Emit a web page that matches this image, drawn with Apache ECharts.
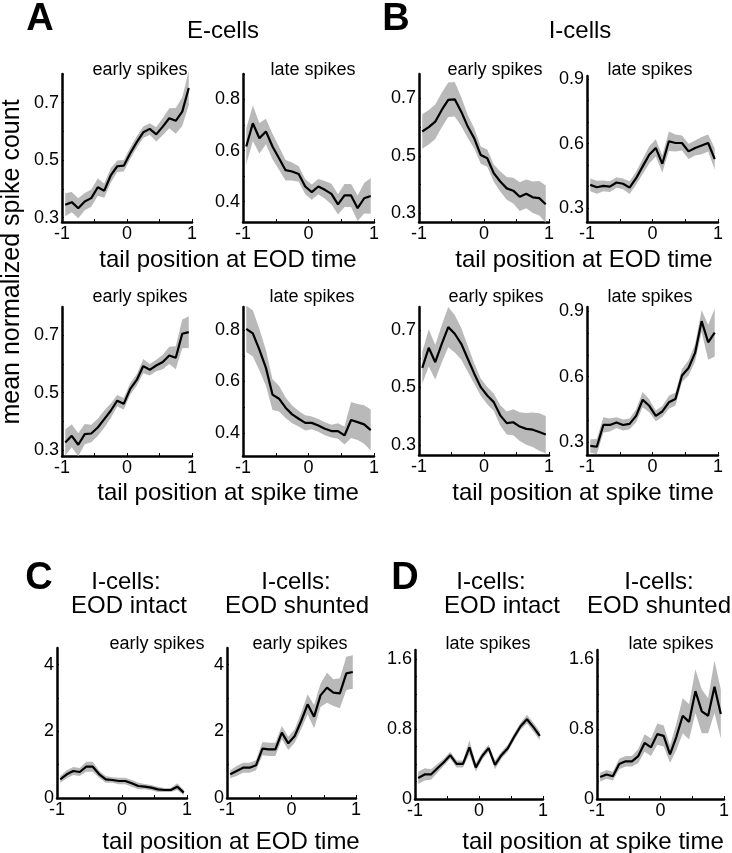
<!DOCTYPE html>
<html>
<head>
<meta charset="utf-8">
<script src="https://cdn.jsdelivr.net/npm/echarts@6/dist/echarts.min.js"></script>
<style>
  html, body { margin: 0; padding: 0; background: #fff; }
  #chart { width: 732px; height: 853px; }
</style>
</head>
<body>
<div id="chart"></div>
<script>
// bin centres of tail position
const xBins = [-0.95, -0.85, -0.75, -0.65, -0.55, -0.45, -0.35, -0.25, -0.15, -0.05,
  0.05, 0.15, 0.25, 0.35, 0.45, 0.55, 0.65, 0.75, 0.85, 0.95]
const xTickLabels = [-1, 0, 1]
const xTickMarks = [-1, -0.5, 0, 0.5, 1]

// A: E-cells, tail position at EOD time
const eEodEarly = [0.345, 0.354, 0.333, 0.356, 0.368, 0.406, 0.394, 0.447, 0.479, 0.481, 0.524, 0.563, 0.597, 0.609, 0.590, 0.617, 0.646, 0.637, 0.669, 0.751]
const eEodEarlySem = [0.04, 0.035, 0.035, 0.03, 0.03, 0.03, 0.025, 0.025, 0.02, 0.02, 0.02, 0.02, 0.02, 0.02, 0.025, 0.03, 0.035, 0.045, 0.05, 0.06]
const eEodLate = [0.616, 0.707, 0.648, 0.675, 0.616, 0.570, 0.523, 0.518, 0.508, 0.459, 0.437, 0.459, 0.446, 0.430, 0.389, 0.424, 0.424, 0.374, 0.413, 0.422]
const eEodLateSem = [0.07, 0.07, 0.06, 0.05, 0.05, 0.045, 0.04, 0.035, 0.03, 0.03, 0.03, 0.03, 0.035, 0.04, 0.04, 0.045, 0.045, 0.05, 0.06, 0.07]
// B: I-cells, tail position at EOD time
const iEodEarly = [0.585, 0.600, 0.619, 0.660, 0.695, 0.697, 0.654, 0.602, 0.561, 0.503, 0.492, 0.440, 0.411, 0.387, 0.379, 0.358, 0.368, 0.356, 0.353, 0.332]
const iEodEarlySem = [0.06, 0.06, 0.06, 0.06, 0.06, 0.06, 0.05, 0.04, 0.035, 0.03, 0.03, 0.03, 0.035, 0.04, 0.045, 0.05, 0.05, 0.055, 0.06, 0.065]
const iEodLate = [0.408, 0.397, 0.403, 0.400, 0.419, 0.413, 0.395, 0.439, 0.494, 0.548, 0.580, 0.506, 0.611, 0.603, 0.603, 0.564, 0.580, 0.591, 0.603, 0.528]
const iEodLateSem = [0.03, 0.03, 0.025, 0.025, 0.025, 0.025, 0.03, 0.03, 0.035, 0.04, 0.04, 0.04, 0.045, 0.04, 0.035, 0.035, 0.035, 0.04, 0.04, 0.05]
// A: E-cells, tail position at spike time
const eSpkEarly = [0.327, 0.350, 0.319, 0.356, 0.358, 0.379, 0.408, 0.437, 0.472, 0.461, 0.513, 0.544, 0.592, 0.579, 0.594, 0.606, 0.629, 0.621, 0.704, 0.710]
const eSpkEarlySem = [0.045, 0.04, 0.04, 0.035, 0.03, 0.03, 0.03, 0.025, 0.02, 0.02, 0.02, 0.02, 0.025, 0.02, 0.02, 0.025, 0.03, 0.04, 0.05, 0.055]
const eSpkLate = [0.805, 0.787, 0.724, 0.653, 0.549, 0.533, 0.498, 0.472, 0.455, 0.439, 0.439, 0.429, 0.416, 0.407, 0.407, 0.390, 0.450, 0.442, 0.433, 0.411]
const eSpkLateSem = [0.09, 0.09, 0.08, 0.07, 0.06, 0.05, 0.04, 0.035, 0.03, 0.03, 0.025, 0.025, 0.025, 0.025, 0.03, 0.035, 0.07, 0.07, 0.075, 0.08]
// B: I-cells, tail position at spike time
const iSpkEarly = [0.568, 0.638, 0.588, 0.652, 0.710, 0.687, 0.652, 0.600, 0.548, 0.501, 0.472, 0.449, 0.403, 0.376, 0.379, 0.364, 0.356, 0.353, 0.345, 0.336]
const iSpkEarlySem = [0.055, 0.065, 0.06, 0.065, 0.07, 0.065, 0.055, 0.045, 0.035, 0.03, 0.03, 0.03, 0.035, 0.04, 0.045, 0.05, 0.055, 0.06, 0.065, 0.065]
const iSpkLate = [0.282, 0.278, 0.378, 0.378, 0.389, 0.378, 0.383, 0.420, 0.494, 0.466, 0.420, 0.440, 0.482, 0.497, 0.605, 0.640, 0.709, 0.855, 0.758, 0.802]
const iSpkLateSem = [0.03, 0.035, 0.035, 0.03, 0.025, 0.025, 0.025, 0.03, 0.035, 0.03, 0.025, 0.025, 0.03, 0.03, 0.03, 0.035, 0.04, 0.05, 0.08, 0.11]
// C: I-cells early spikes, EOD intact / shunted
const intactEarly = [0.56, 0.71, 0.81, 0.78, 0.94, 0.94, 0.71, 0.56, 0.54, 0.51, 0.51, 0.44, 0.36, 0.34, 0.31, 0.26, 0.24, 0.24, 0.34, 0.16]
const intactEarlySem = [0.1, 0.12, 0.12, 0.12, 0.15, 0.15, 0.1, 0.1, 0.08, 0.1, 0.1, 0.1, 0.1, 0.08, 0.08, 0.08, 0.06, 0.06, 0.1, 0.08]
const shuntEarly = [0.71, 0.81, 0.91, 0.91, 0.98, 1.48, 1.46, 1.46, 1.96, 1.64, 1.86, 2.31, 2.81, 2.44, 3.08, 3.31, 3.16, 3.14, 3.74, 3.78]
const shuntEarlySem = [0.12, 0.15, 0.15, 0.15, 0.15, 0.2, 0.2, 0.2, 0.2, 0.2, 0.2, 0.25, 0.3, 0.35, 0.35, 0.45, 0.4, 0.45, 0.5, 0.5]
// D: I-cells late spikes, EOD intact / shunted
const intactLate = [0.24, 0.28, 0.28, 0.35, 0.42, 0.50, 0.40, 0.40, 0.59, 0.36, 0.49, 0.58, 0.39, 0.50, 0.58, 0.71, 0.83, 0.91, 0.82, 0.72]
const intactLateSem = [0.07, 0.07, 0.06, 0.05, 0.04, 0.04, 0.04, 0.04, 0.08, 0.05, 0.04, 0.04, 0.05, 0.04, 0.04, 0.04, 0.04, 0.05, 0.05, 0.05]
const shuntLate = [0.25, 0.28, 0.26, 0.40, 0.43, 0.43, 0.49, 0.64, 0.59, 0.74, 0.72, 0.51, 0.71, 0.95, 0.88, 1.23, 1.00, 0.95, 1.28, 0.97]
const shuntLateSem = [0.05, 0.05, 0.05, 0.06, 0.06, 0.06, 0.08, 0.1, 0.1, 0.12, 0.12, 0.1, 0.15, 0.2, 0.2, 0.25, 0.25, 0.2, 0.3, 0.28]

// y tick labels / tick marks
const ticksA = [0.3, 0.5, 0.7]
const ticksALate = [0.4, 0.6, 0.8]
const ticksBLate = [0.3, 0.6, 0.9]
const ticksC = [0, 2, 4]
const ticksD = [0, 0.8, 1.6]
const marksTenths = [0.3, 0.4, 0.5, 0.6, 0.7, 0.8, 0.9]
const marksC = [0, 1, 2, 3, 4]
const marksD = [0, 0.2, 0.4, 0.6, 0.8, 1.0, 1.2, 1.4, 1.6]

const FONT = '"Liberation Sans", Arial, Helvetica, sans-serif'
const BAND = '#b9b9b9'

const panels = [
  { mean: eEodEarly, sem: eEodEarlySem, min: 0.285, max: 0.8, labels: ticksA, marks: marksTenths, left: 62, top: 74, width: 130, height: 148 },
  { mean: eEodLate, sem: eEodLateSem, min: 0.32, max: 0.9, labels: ticksALate, marks: marksTenths, left: 243, top: 74, width: 131, height: 148 },
  { mean: iEodEarly, sem: iEodEarlySem, min: 0.27, max: 0.785, labels: ticksA, marks: marksTenths, left: 419, top: 74, width: 130, height: 148 },
  { mean: iEodLate, sem: iEodLateSem, min: 0.235, max: 0.915, labels: ticksBLate, marks: marksTenths, left: 587, top: 76, width: 131, height: 146 },
  { mean: eSpkEarly, sem: eSpkEarlySem, min: 0.28, max: 0.797, labels: ticksA, marks: marksTenths, left: 62, top: 307, width: 130, height: 149 },
  { mean: eSpkLate, sem: eSpkLateSem, min: 0.31, max: 0.89, labels: ticksALate, marks: marksTenths, left: 243, top: 307, width: 131, height: 149 },
  { mean: iSpkEarly, sem: iSpkEarlySem, min: 0.265, max: 0.78, labels: ticksA, marks: marksTenths, left: 419, top: 307, width: 130, height: 148 },
  { mean: iSpkLate, sem: iSpkLateSem, min: 0.24, max: 0.92, labels: ticksBLate, marks: marksTenths, left: 587, top: 307, width: 131, height: 148 },
  { mean: intactEarly, sem: intactEarlySem, min: 0, max: 4.5, labels: ticksC, marks: marksC, left: 57, top: 648, width: 130, height: 150 },
  { mean: shuntEarly, sem: shuntEarlySem, min: 0, max: 4.5, labels: ticksC, marks: marksC, left: 227, top: 648, width: 129, height: 150 },
  { mean: intactLate, sem: intactLateSem, min: 0, max: 1.7, labels: ticksD, marks: marksD, left: 415, top: 650, width: 128, height: 149 },
  { mean: shuntLate, sem: shuntLateSem, min: 0, max: 1.7, labels: ticksD, marks: marksD, left: 597, top: 650, width: 127, height: 149 }
]

const texts = [
  // panel letters
  { t: 'A', x: 40, y: 20, f: 'bold 38px ' + FONT },
  { t: 'B', x: 396, y: 20, f: 'bold 38px ' + FONT },
  { t: 'C', x: 39, y: 579, f: 'bold 38px ' + FONT },
  { t: 'D', x: 405, y: 579, f: 'bold 38px ' + FONT },
  // headers
  { t: 'E-cells', x: 223, y: 31, f: '24px ' + FONT },
  { t: 'I-cells', x: 580, y: 31, f: '24px ' + FONT },
  { t: 'I-cells:', x: 126, y: 582, f: '24px ' + FONT },
  { t: 'EOD intact', x: 129, y: 606, f: '24px ' + FONT },
  { t: 'I-cells:', x: 296, y: 582, f: '24px ' + FONT },
  { t: 'EOD shunted', x: 297, y: 606, f: '24px ' + FONT },
  { t: 'I-cells:', x: 491, y: 582, f: '24px ' + FONT },
  { t: 'EOD intact', x: 502, y: 606, f: '24px ' + FONT },
  { t: 'I-cells:', x: 659, y: 582, f: '24px ' + FONT },
  { t: 'EOD shunted', x: 659, y: 606, f: '24px ' + FONT },
  // sub titles
  { t: 'early spikes', x: 140, y: 70, f: '18px ' + FONT },
  { t: 'late spikes', x: 313, y: 70, f: '18px ' + FONT },
  { t: 'early spikes', x: 495, y: 70, f: '18px ' + FONT },
  { t: 'late spikes', x: 650, y: 70, f: '18px ' + FONT },
  { t: 'early spikes', x: 140, y: 297, f: '18px ' + FONT },
  { t: 'late spikes', x: 312, y: 297, f: '18px ' + FONT },
  { t: 'early spikes', x: 496, y: 297, f: '18px ' + FONT },
  { t: 'late spikes', x: 650, y: 297, f: '18px ' + FONT },
  { t: 'early spikes', x: 157, y: 644, f: '18px ' + FONT },
  { t: 'early spikes', x: 300, y: 644, f: '18px ' + FONT },
  { t: 'late spikes', x: 488, y: 644, f: '18px ' + FONT },
  { t: 'late spikes', x: 671, y: 644, f: '18px ' + FONT },
  // x axis titles
  { t: 'tail position at EOD time', x: 228, y: 260, f: '24px ' + FONT },
  { t: 'tail position at EOD time', x: 584, y: 260, f: '24px ' + FONT },
  { t: 'tail position at spike time', x: 228, y: 493, f: '24px ' + FONT },
  { t: 'tail position at spike time', x: 583, y: 493, f: '24px ' + FONT },
  { t: 'tail position at EOD time', x: 231, y: 842, f: '24px ' + FONT },
  { t: 'tail position at spike time', x: 593, y: 842, f: '24px ' + FONT }
]

const chart = echarts.init(document.getElementById('chart'))

const grid = panels.map(p => ({
  left: p.left, top: p.top, width: p.width, height: p.height,
  containLabel: false, outerBoundsMode: 'none'
}))

const xAxis = panels.map((p, i) => ({
  gridIndex: i, type: 'value', min: -1, max: 1,
  axisLine: { show: true, onZero: false, lineStyle: { color: '#000', width: 2.5 } },
  axisTick: { show: true, inside: true, length: 3, customValues: xTickMarks, lineStyle: { color: '#000', width: 1 } },
  axisLabel: { customValues: xTickLabels, color: '#000', fontSize: 18, fontFamily: FONT, margin: 3 },
  splitLine: { show: false }
}))

const yAxis = panels.map((p, i) => ({
  gridIndex: i, type: 'value', min: p.min, max: p.max,
  axisLine: { show: true, onZero: false, lineStyle: { color: '#000', width: 2.5 } },
  axisTick: { show: true, inside: true, length: 2, customValues: p.marks.filter(v => v >= p.min && v <= p.max), lineStyle: { color: '#000', width: 1 } },
  axisLabel: { customValues: p.labels, color: '#000', fontSize: 18, fontFamily: FONT, margin: 3 },
  splitLine: { show: false }
}))

const series = []
panels.forEach((p, i) => {
  // shaded error band drawn as one polygon through the axis scales
  series.push({
    type: 'custom', xAxisIndex: i, yAxisIndex: i, silent: true, clip: false, z: 1,
    data: xBins.map((x, k) => [x, p.mean[k] - p.sem[k], p.mean[k] + p.sem[k]]),
    encode: { x: 0, y: [1, 2] },
    renderItem: (params, api) => {
      if (params.dataIndex !== 0) return null
      const upper = xBins.map((x, k) => api.coord([x, p.mean[k] + p.sem[k]]))
      const lower = xBins.map((x, k) => api.coord([x, p.mean[k] - p.sem[k]])).reverse()
      return { type: 'polygon', shape: { points: upper.concat(lower) }, style: { fill: BAND } }
    }
  })
  series.push({
    type: 'line', xAxisIndex: i, yAxisIndex: i, silent: true, z: 3,
    data: xBins.map((x, k) => [x, p.mean[k]]),
    symbol: 'none', animation: false,
    lineStyle: { color: '#000', width: 2.2 }
  })
})

const graphic = texts.map(d => ({
  type: 'text', x: d.x, y: d.y,
  style: { text: d.t, font: d.f, fill: '#000', align: 'center', verticalAlign: 'middle', textAlign: 'center', textVerticalAlign: 'middle' }
}))
graphic.push({
  type: 'text', x: 12, y: 262, rotation: Math.PI / 2,
  style: { text: 'mean normalized spike count', font: '25px ' + FONT, fill: '#000', align: 'center', verticalAlign: 'middle', textAlign: 'center', textVerticalAlign: 'middle' }
})

chart.setOption({
  backgroundColor: '#fff',
  animation: false,
  grid, xAxis, yAxis, series, graphic
})
</script>
</body>
</html>
